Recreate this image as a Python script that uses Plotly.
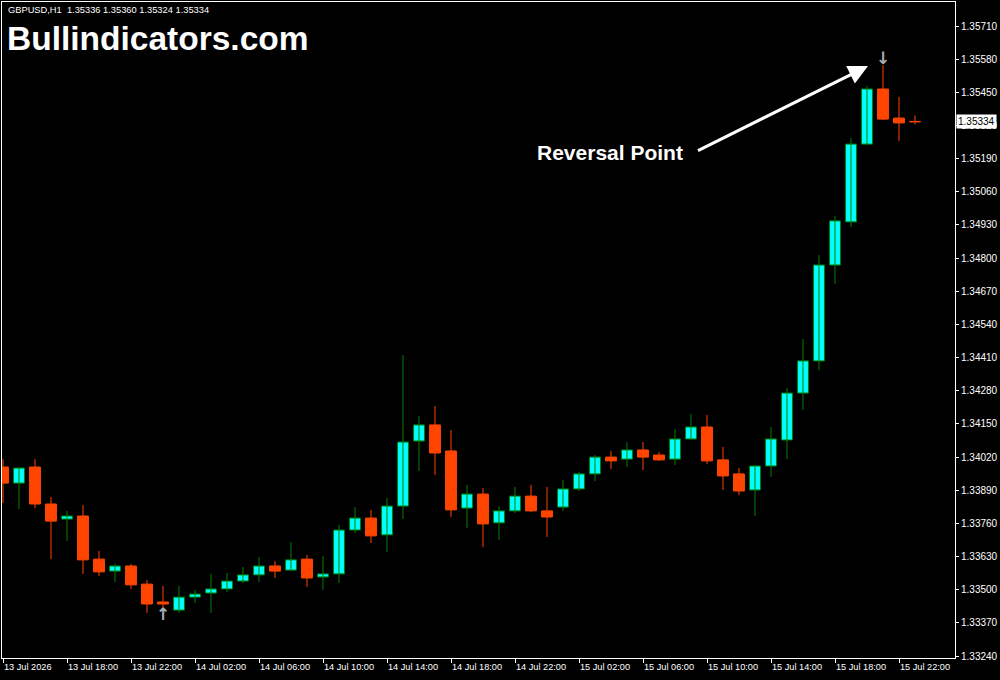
import plotly.graph_objects as go

# ---------------- data ----------------
symbol_header = "GBPUSD,H1  1.35336 1.35360 1.35324 1.35334"
watermark = "Bullindicators.com"
callout_text = "Reversal Point"

bar_index = list(range(58))

opens = [1.33981, 1.33918, 1.33981, 1.33836, 1.33777, 1.33789, 1.33620, 1.33573, 1.33593, 1.33522,
         1.33452, 1.33420, 1.33471, 1.33487, 1.33503, 1.33534, 1.33558, 1.33593, 1.33577, 1.33620,
         1.33550, 1.33562, 1.33734, 1.33781, 1.33715, 1.33828, 1.34083, 1.34146, 1.34044, 1.33820,
         1.33875, 1.33762, 1.33809, 1.33867, 1.33809, 1.33824, 1.33895, 1.33954, 1.34020, 1.34012,
         1.34048, 1.34028, 1.34012, 1.34091, 1.34138, 1.34009, 1.33954, 1.33891, 1.33985, 1.34087,
         1.34271, 1.34397, 1.34773, 1.34942, 1.35247, 1.35463, 1.35349, 1.35336]
highs = [1.34012, 1.33981, 1.34012, 1.33864, 1.33809, 1.33832, 1.33652, 1.33601, 1.33601, 1.33538,
         1.33515, 1.33515, 1.33499, 1.33562, 1.33566, 1.33589, 1.33628, 1.33613, 1.33687, 1.33636,
         1.33632, 1.33754, 1.33824, 1.33813, 1.33860, 1.34420, 1.34181, 1.34220, 1.34126, 1.33911,
         1.33899, 1.33828, 1.33903, 1.33911, 1.33903, 1.33930, 1.33962, 1.34028, 1.34044, 1.34079,
         1.34079, 1.34040, 1.34130, 1.34189, 1.34185, 1.34060, 1.33977, 1.33989, 1.34138, 1.34291,
         1.34483, 1.34812, 1.34965, 1.35271, 1.35475, 1.35557, 1.35432, 1.35360]
lows = [1.33840, 1.33816, 1.33820, 1.33620, 1.33691, 1.33562, 1.33554, 1.33530, 1.33503, 1.33409,
        1.33417, 1.33409, 1.33448, 1.33409, 1.33491, 1.33526, 1.33530, 1.33546, 1.33573, 1.33511,
        1.33499, 1.33526, 1.33722, 1.33683, 1.33648, 1.33777, 1.33965, 1.33950, 1.33785, 1.33742,
        1.33667, 1.33695, 1.33801, 1.33805, 1.33707, 1.33809, 1.33887, 1.33926, 1.33973, 1.33981,
        1.33969, 1.34005, 1.33989, 1.34087, 1.33993, 1.33891, 1.33871, 1.33789, 1.33942, 1.34012,
        1.34205, 1.34361, 1.34699, 1.34922, 1.35243, 1.35341, 1.35259, 1.35324]
closes = [1.33918, 1.33977, 1.33836, 1.33769, 1.33789, 1.33617, 1.33570, 1.33593, 1.33519, 1.33444,
          1.33444, 1.33471, 1.33483, 1.33503, 1.33534, 1.33558, 1.33593, 1.33573, 1.33617, 1.33546,
          1.33562, 1.33734, 1.33781, 1.33711, 1.33828, 1.34079, 1.34146, 1.34036, 1.33813, 1.33875,
          1.33758, 1.33809, 1.33867, 1.33809, 1.33785, 1.33895, 1.33954, 1.34020, 1.34005, 1.34048,
          1.34020, 1.34009, 1.34091, 1.34138, 1.34005, 1.33946, 1.33887, 1.33985, 1.34091, 1.34271,
          1.34397, 1.34773, 1.34946, 1.35247, 1.35463, 1.35345, 1.35330, 1.35334]

x_tick_index = [0, 4, 8, 12, 16, 20, 24, 28, 32, 36, 40, 44, 48, 52, 56]
x_tick_labels = ["13 Jul 2026", "13 Jul 18:00", "13 Jul 22:00", "14 Jul 02:00", "14 Jul 06:00",
                 "14 Jul 10:00", "14 Jul 14:00", "14 Jul 18:00", "14 Jul 22:00", "15 Jul 02:00",
                 "15 Jul 06:00", "15 Jul 10:00", "15 Jul 14:00", "15 Jul 18:00", "15 Jul 22:00"]
y_tick_values = [1.33240, 1.33370, 1.33500, 1.33630, 1.33760, 1.33890, 1.34020, 1.34150, 1.34280,
                 1.34410, 1.34540, 1.34670, 1.34800, 1.34930, 1.35060, 1.35190, 1.35320, 1.35450,
                 1.35580, 1.35710]

signal_buy_index = [10]
signal_sell_index = [55]
signal_offset = 0.0002

# ---------------- styles ----------------
BULL_FILL = "#00FFFF"
BULL_LINE = "#008000"
BEAR_COLOR = "#FF4500"
ARROW_COLOR = "#A9AEB4"

bull = [i for i in bar_index if closes[i] > opens[i]]
bear = [i for i in bar_index if closes[i] <= opens[i]]


def wick_xy(idx):
    xs, ys = [], []
    for i in idx:
        xs += [i, i, None]
        ys += [lows[i], highs[i], None]
    return xs, ys


fig = go.Figure()

for idx, col in ((bull, BULL_LINE), (bear, BEAR_COLOR)):
    wx, wy = wick_xy(idx)
    fig.add_trace(go.Scatter(x=wx, y=wy, mode="lines", line=dict(color=col, width=1),
                             hoverinfo="skip", showlegend=False))

fig.add_trace(go.Bar(
    x=bull, base=[opens[i] for i in bull],
    y=[closes[i] - opens[i] for i in bull],
    width=0.68, marker=dict(color=BULL_FILL, line=dict(color=BULL_LINE, width=1)),
    showlegend=False))
fig.add_trace(go.Bar(
    x=bear, base=[closes[i] for i in bear],
    y=[max(opens[i] - closes[i], 0.00002) for i in bear],
    width=0.68, marker=dict(color=BEAR_COLOR, line=dict(color=BEAR_COLOR, width=1)),
    showlegend=False))

# signal arrows
fig.add_trace(go.Scatter(
    x=signal_buy_index, y=[lows[i] - signal_offset for i in signal_buy_index],
    mode="text", text=["<b>↑</b>"] * len(signal_buy_index),
    textfont=dict(family="DejaVu Sans", size=17, color=ARROW_COLOR),
    textposition="middle center", showlegend=False, hoverinfo="skip"))
fig.add_trace(go.Scatter(
    x=signal_sell_index, y=[highs[i] + signal_offset for i in signal_sell_index],
    mode="text", text=["<b>↓</b>"] * len(signal_sell_index),
    textfont=dict(family="DejaVu Sans", size=17, color=ARROW_COLOR),
    textposition="middle center", showlegend=False, hoverinfo="skip"))

annotations = [
    dict(text=symbol_header, xref="paper", yref="paper", x=0.004, y=0.988,
         xanchor="left", yanchor="middle", showarrow=False,
         font=dict(family="Liberation Sans", size=9.3, color="#FFFFFF")),
    dict(text="<b>" + watermark + "</b>", xref="paper", yref="paper", x=0.003, y=0.945,
         xanchor="left", yanchor="middle", showarrow=False,
         font=dict(family="Liberation Sans", size=33.5, color="#FFFFFF")),
    dict(text="<b>" + callout_text + "</b>", xref="paper", yref="paper", x=0.638, y=0.771,
         xanchor="center", yanchor="middle", showarrow=False,
         font=dict(family="Liberation Sans", size=21, color="#FFFFFF")),
    dict(text=" ", xref="paper", yref="paper", x=0.9087, y=0.9024,
         ax=-173, ay=86, showarrow=True, arrowhead=2, arrowsize=1.3, arrowwidth=3,
         arrowcolor="#FFFFFF"),
    dict(text=f"{closes[-1]:.5f}", xref="paper", yref="y", x=1.0015, y=closes[-1],
         xanchor="left", yanchor="middle", showarrow=False, bgcolor="#FFFFFF",
         borderpad=1, font=dict(family="Liberation Sans", size=10, color="#000000")),
]

fig.update_layout(
    width=1000, height=680,
    margin=dict(l=2, r=45, t=2, b=22),
    paper_bgcolor="#000000", plot_bgcolor="#000000",
    barmode="overlay", showlegend=False,
    annotations=annotations,
    xaxis=dict(range=[-0.0625, 59.5], tickmode="array", tickvals=x_tick_index,
               ticktext=x_tick_labels, ticks="outside", ticklen=4, tickcolor="#FFFFFF",
               ticklabelposition="outside right",
               tickfont=dict(family="Liberation Sans", size=9.2, color="#FFFFFF"),
               showgrid=False, zeroline=False, showline=True, linecolor="#FFFFFF",
               linewidth=1, mirror=True, fixedrange=True),
    yaxis=dict(range=[1.332323, 1.358041], side="right", tickmode="array",
               tickvals=y_tick_values, tickformat=".5f", ticks="outside", ticklen=3,
               tickcolor="#FFFFFF",
               tickfont=dict(family="Liberation Sans", size=10, color="#FFFFFF"),
               showgrid=False, zeroline=False, showline=True, linecolor="#FFFFFF",
               linewidth=1, mirror=True, fixedrange=True),
)

fig.write_html("out.html", config={"displayModeBar": False},
               post_script="document.body.style.margin='0';document.body.style.background='#000';")
